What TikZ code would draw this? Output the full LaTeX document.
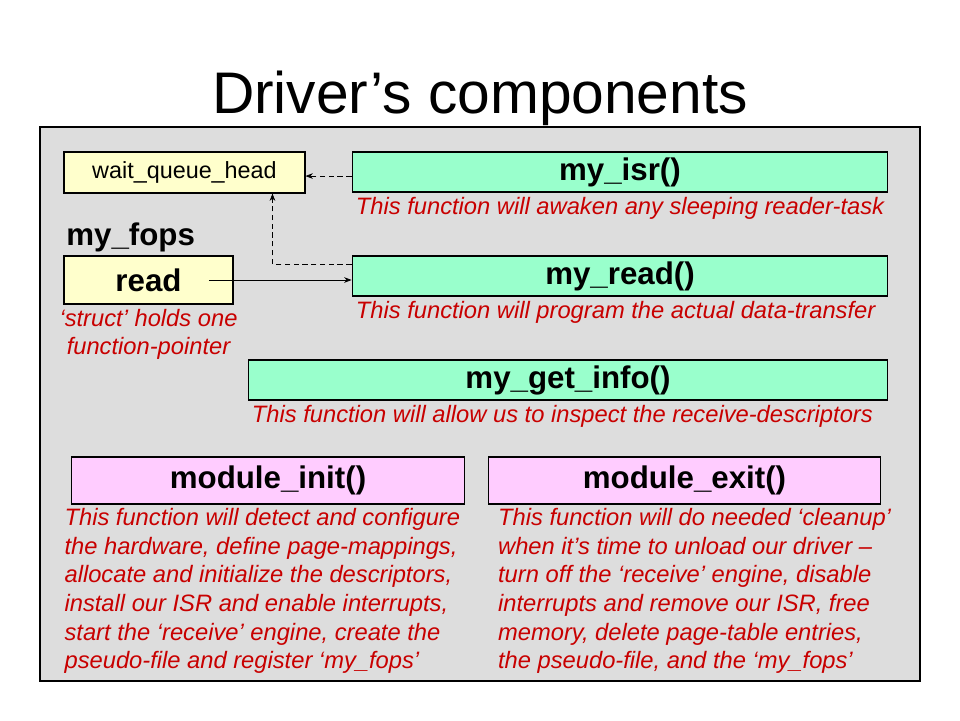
\documentclass[tikz,border=0pt]{standalone}
\usepackage{fontspec}
\setmainfont{Liberation Sans}
\usetikzlibrary{positioning,arrows.meta}
\definecolor{panelgray}{HTML}{DDDDDD}
\definecolor{qyellow}{HTML}{FFFFCC}
\definecolor{fngreen}{HTML}{99FFCC}
\definecolor{modpink}{HTML}{FFCCFF}
\definecolor{notered}{HTML}{C80000}
\begin{document}
\begin{tikzpicture}[x=0.02cm,y=-0.02cm,>={Stealth[length=4.2pt,width=3.2pt]},
	box/.style={draw=black, line width=0.6pt, inner sep=0pt, font=\fontsize{17.8}{20}\selectfont\bfseries},
	fnbox/.style={box, fill=fngreen, minimum height=0.8cm},
	modbox/.style={box, fill=modpink, minimum width=7.85cm, minimum height=0.94cm},
	note/.style={text=notered, inner sep=0pt, font=\fontsize{13.5}{16.3}\selectfont\itshape}]

\useasboundingbox (0,0) rectangle (960,720);

%----------------------------
% Title and panel
%----------------------------
\node[anchor=base, font=\fontsize{33.4}{40}\selectfont] (title) at (480,113) {Driver’s components};
\draw[fill=panelgray, line width=0.6pt] (40,127) rectangle (920,681);

%----------------------------
% Left: wait queue and my_fops
%----------------------------
\node[box, fill=qyellow, minimum width=4.82cm, minimum height=0.82cm,
	font=\fontsize{13.3}{16}\selectfont] (wqh) at (184.5,172.5) {wait\_queue\_head};
\node[anchor=base west, inner sep=0pt, font=\fontsize{17.8}{20}\selectfont\bfseries] (fops) at (66,245) {my\_fops};
\node[box, fill=qyellow, minimum width=3.38cm, minimum height=0.96cm] (read) at (148.5,280) {read};
\node[note, anchor=north, align=center] (readnote) at ([yshift=-2.3pt]read.south)
	{‘struct’ holds one\\function-pointer};

%----------------------------
% Right: driver functions
%----------------------------
\node[fnbox, minimum width=10.72cm] (isr) at (620,172) {my\_isr()};
\node[note, anchor=north west] (isrnote) at ([xshift=2.3pt,yshift=-2.8pt]isr.south west)
	{This function will awaken any sleeping reader-task};

\node[fnbox, minimum width=10.72cm] (readfn) at (620,276) {my\_read()};
\node[note, anchor=north west] (readfnnote) at ([xshift=2.3pt,yshift=-2.8pt]readfn.south west)
	{This function will program the actual data-transfer};

\node[fnbox, minimum width=12.8cm] (getinfo) at (568,380) {my\_get\_info()};
\node[note, anchor=north west] (getinfonote) at ([xshift=2.3pt,yshift=-2.8pt]getinfo.south west)
	{This function will allow us to inspect the receive-descriptors};

%----------------------------
% Bottom: module init / exit
%----------------------------
\node[modbox] (init) at (268,480.5) {module\_init()};
\node[note, anchor=north west, align=left] (initnote) at ([xshift=-4pt,yshift=-2pt]init.south west)
	{This function will detect and configure\\
	the hardware, define page-mappings,\\
	allocate and initialize the descriptors,\\
	install our ISR and enable interrupts,\\
	start the ‘receive’ engine, create the\\
	pseudo-file and register ‘my\_fops’};

\node[modbox] (exit) at (684.5,480.5) {module\_exit()};
\node[note, anchor=north west, align=left] (exitnote) at ([xshift=5.7pt,yshift=-2pt]exit.south west)
	{This function will do needed ‘cleanup’\\
	when it’s time to unload our driver --\\
	turn off the ‘receive’ engine, disable\\
	interrupts and remove our ISR, free\\
	memory, delete page-table entries,\\
	the pseudo-file, and the ‘my\_fops’};

%----------------------------
% Arrows
%----------------------------
\draw[->,densely dashed] ([yshift=-2.3pt]isr.west) -- ([yshift=-2.3pt]isr.west -| wqh.east);
\draw[->,densely dashed] ([yshift=6.8pt]readfn.west) -| ([xshift=-18.8pt]wqh.south east);
\draw[->] ([xshift=-14pt]read.east) -- (read.east -| readfn.west);
\end{tikzpicture}
\end{document}
